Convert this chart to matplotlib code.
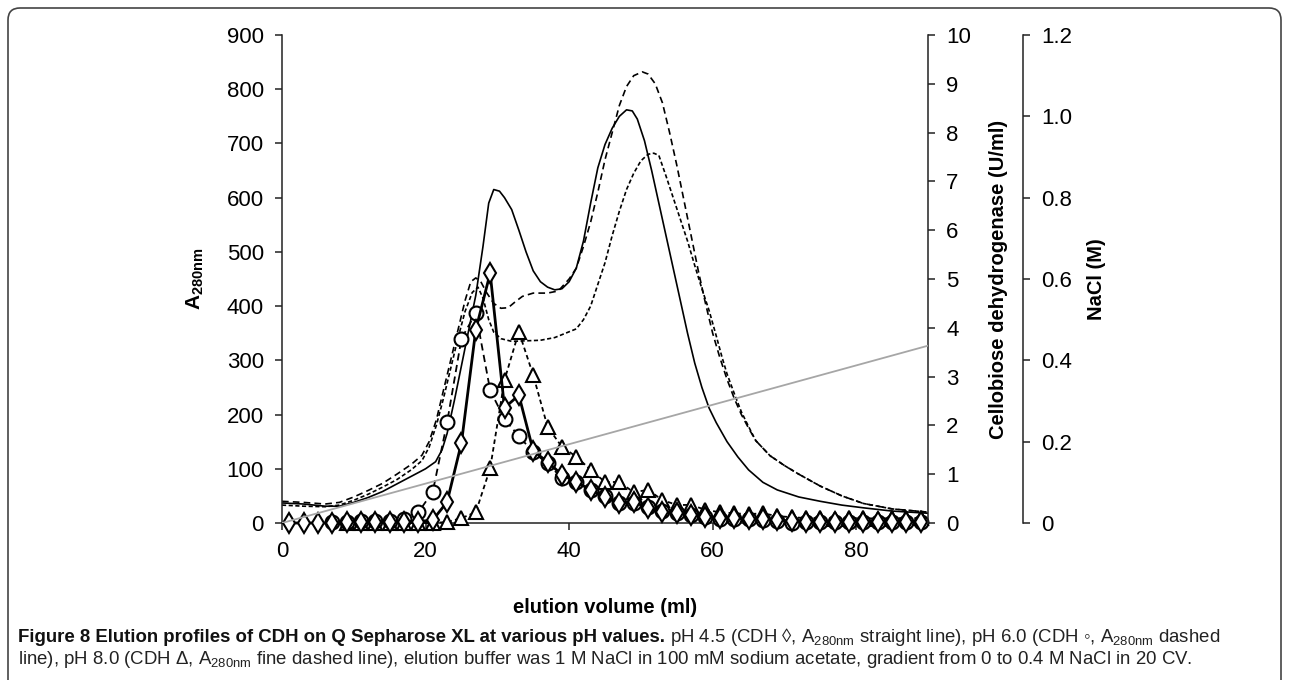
import matplotlib
matplotlib.use("Agg")
import matplotlib.pyplot as plt
from matplotlib.patches import FancyBboxPatch
from matplotlib.transforms import IdentityTransform

plt.rcParams['font.family'] = ['Liberation Sans', 'DejaVu Sans']
plt.rcParams['mathtext.fontset'] = 'custom'
plt.rcParams['mathtext.rm'] = 'Liberation Sans'
plt.rcParams['mathtext.bf'] = 'Liberation Sans:bold'

# A280 traces (left axis)
vol_45 = [0, 3, 6, 8, 10, 12, 14, 16, 18, 20, 21.4, 22.3, 23, 24, 25, 26, 27, 28, 28.8, 29.5,
          30.3, 31, 32, 33, 34, 35, 36, 37, 38, 39, 40, 41, 42, 43, 44, 45, 46, 47, 48, 48.8,
          49.5, 50.5, 51.5, 52.5, 53.5, 54.5, 55.5, 56.5, 57.5, 58.5, 59.5, 60.5, 62, 63.5, 65,
          67, 69, 72, 75, 78, 81, 85, 90]
a280_45 = [37, 35, 31, 31, 38, 47, 58, 72, 86, 100, 113, 135, 165, 225, 290, 355, 420, 510, 590, 615,
           612, 600, 578, 540, 500, 465, 445, 435, 430, 432, 445, 470, 520, 590, 655, 698, 728, 750, 762, 760,
           745, 705, 650, 590, 530, 470, 410, 350, 295, 250, 212, 185, 150, 122, 98,
           75, 61, 48, 40, 33, 28, 22, 18]

vol_60 = [0, 3, 6, 8, 10, 12, 14, 16, 18, 19.5, 20.5, 21.5, 22.5, 23.5, 24.5, 25.5, 26.3, 27, 27.7,
          28.5, 29.5, 30.5, 31.5, 32.5, 33.5, 35, 37, 38.5, 40, 41, 42, 43, 44, 45, 46, 47, 48, 49,
          50.2, 51, 52, 53, 54, 55, 56, 57, 58, 59, 60, 61, 62, 63, 64, 65, 66, 68, 70, 72, 75, 78,
          81, 85, 90]
a280_60 = [40, 38, 35, 38, 48, 60, 73, 90, 108, 125, 150, 190, 245, 300, 355, 410, 445, 452, 445,
           425, 405, 396, 397, 408, 418, 424, 424, 428, 450, 470, 510, 555, 610, 670, 720, 770, 805, 825,
           832, 828, 810, 775, 720, 660, 595, 530, 465, 405, 350, 305, 265, 230, 200, 175, 152, 124, 106, 90, 68, 50,
           36, 26, 20]

vol_80 = [0, 3, 6, 8, 10, 12, 14, 16, 18, 19.5, 20.5, 21.5, 22.5, 23.5, 24.5, 25.5, 26.5, 27.3, 28,
          28.8, 29.5, 30.5, 32, 34, 36, 38, 39.5, 41, 42, 43, 44, 45, 46, 47, 48, 49, 50, 51, 51.8,
          52.5, 53.5, 54.5, 55.5, 56.5, 57.5, 58.5, 59.5, 60.5, 61.3, 62, 63.2, 64, 65, 66, 68, 70, 72,
          75, 78, 81, 85, 90]
a280_80 = [33, 31, 30, 33, 42, 53, 66, 80, 98, 115, 140, 180, 230, 285, 340, 390, 425, 435, 415,
           375, 352, 340, 335, 336, 337, 342, 350, 358, 375, 400, 440, 480, 530, 575, 615, 645, 668, 680, 682,
           678, 640, 600, 560, 520, 475, 432, 392, 345, 306, 275, 232, 205, 178, 152, 124, 106, 90,
           68, 50, 36, 26, 20]

# CDH activity (U/ml, right axis)
frac_45 = list(range(1, 90, 2))
cdh_45 = [0, 0, 0, 0, 0.02, 0.03, 0.03, 0.03, 0.03, 0.03, 0.06, 0.43, 1.64, 3.96, 5.12, 2.36, 2.62,
          1.48, 1.25, 0.99, 0.84, 0.68, 0.53, 0.41, 0.43, 0.31, 0.22, 0.2, 0.17, 0.13, 0.1, 0.1, 0.08,
          0.08, 0.06, 0.04, 0.03, 0.03, 0.03, 0.03, 0.02, 0.02, 0.02, 0.02, 0.02]

frac_60 = list(range(7, 90, 2))
cdh_60 = [0.02, 0.03, 0.05, 0.05, 0.05, 0.08, 0.22, 0.64, 2.06, 3.78, 4.3, 2.72, 2.13, 1.78, 1.45,
          1.22, 0.92, 0.83, 0.68, 0.55, 0.42, 0.4, 0.32, 0.24, 0.2, 0.17, 0.13, 0.08, 0.09, 0.08, 0.07,
          0.05, 0.01, 0.03, 0.03, 0.03, 0.03, 0.03, 0.02, 0.02, 0.02, 0.02]

frac_80 = list(range(9, 90, 2))
cdh_80 = [0, 0, 0, 0, 0, 0, 0, 0.02, 0.1, 0.22, 1.12, 2.93, 3.92, 3.03, 1.97, 1.56, 1.36, 1.09,
          0.84, 0.84, 0.63, 0.68, 0.47, 0.37, 0.37, 0.27, 0.22, 0.2, 0.18, 0.2, 0.14, 0.12, 0.1, 0.1,
          0.09, 0.1, 0.1, 0.09, 0.1, 0.1, 0.1]

# NaCl gradient
vol_nacl = [0, 90]
nacl = [0, 0.436]

W, H = 1289, 680
fig = plt.figure(figsize=(W / 100, H / 100), dpi=100)
ax = fig.add_axes([282 / W, 1 - 523 / H, 646 / W, 488 / H])
ax2 = ax.twinx()
ax3 = ax.twinx()

ax.plot(vol_45, a280_45, color='black', lw=1.2, ls='-')
ax.plot(vol_60, a280_60, color='black', lw=1.2, ls=(0, (4, 2.5)))
ax.plot(vol_80, a280_80, color='black', lw=1.2, ls=(0, (2.5, 1.5)))

ax3.plot(vol_nacl, nacl, color='#a6a6a6', lw=1.3)

mk = dict(color='black', mfc='white', mec='black', mew=1.5, clip_on=False)
ax2.plot(frac_80, cdh_80, marker='^', ms=10, lw=1.3, ls=(0, (2.5, 1.8)), **mk)
ax2.plot(frac_60, cdh_60, marker='o', ms=10, lw=1.3, ls=(0, (4, 2.5)), **mk)
ax2.plot(frac_45, cdh_45, marker='d', ms=10, lw=2.0, ls='-', **mk)

ax.set_xlim(0, 90)
ax.set_ylim(0, 900)
ax.set_xticks([0, 20, 40, 60, 80])
ax.set_yticks(range(0, 901, 100))
ax2.set_ylim(0, 10)
ax2.set_yticks(range(0, 11))
ax3.set_ylim(0, 1.2)
ax3.set_yticks([0, 0.2, 0.4, 0.6, 0.8, 1.0, 1.2])
ax3.set_yticklabels(['0', '0.2', '0.4', '0.6', '0.8', '1.0', '1.2'])

for a in (ax, ax2, ax3):
    a.spines['top'].set_visible(False)
    a.tick_params(direction='out', length=5, width=1.1, labelsize=16, pad=8, color='#222222')
    for s in a.spines.values():
        s.set_linewidth(1.1)
        s.set_color('#222222')
ax2.spines['left'].set_visible(False)
ax2.spines['bottom'].set_visible(False)
ax3.spines['left'].set_visible(False)
ax3.spines['bottom'].set_visible(False)
ax.spines['right'].set_visible(False)
ax3.spines['right'].set_position(('axes', 1.147))

ax.set_xlabel('elution volume (ml)', fontsize=14.5, fontweight='bold')
ax.xaxis.set_label_coords(0.5, -0.154)
ax.set_ylabel(r'A$_{\mathbf{280nm}}$', fontsize=15, fontweight='bold')
ax.yaxis.set_label_coords(-0.118, 0.5)
ax2.set_ylabel('Cellobiose dehydrogenase (U/ml)', fontsize=14.5, fontweight='bold')
ax2.yaxis.set_label_coords(1.094, 0.5)
ax3.set_ylabel('NaCl (M)', fontsize=14.5, fontweight='bold')
ax3.yaxis.set_label_coords(1.246, 0.5)

# outer rounded frame
frame = FancyBboxPatch((8, -30), W - 16, H - 8 + 30, boxstyle='round,pad=0,rounding_size=12',
                       transform=IdentityTransform(), fill=False, ec='#444444', lw=1.2)
fig.add_artist(frame)

# caption
cap_font = ['Liberation Sans', 'DejaVu Sans']
cap_size = 13.4
t1 = fig.text(18 / W, 1 - 637 / H, 'Figure 8 Elution profiles of CDH on Q Sepharose XL at various pH values.',
              fontsize=cap_size, fontweight='bold', family=cap_font, va='center', color='#111111')
fig.canvas.draw()
bb = t1.get_window_extent()
fig.text(bb.x1 / W + 5 / W, 1 - 637 / H,
         r'pH 4.5 (CDH ◊, A$_{\mathrm{280nm}}$ straight line), pH 6.0 (CDH ◦, A$_{\mathrm{280nm}}$ dashed',
         fontsize=cap_size, family=cap_font, va='center', color='#222222')
fig.text(18 / W, 1 - 660 / H,
         r'line), pH 8.0 (CDH Δ, A$_{\mathrm{280nm}}$ fine dashed line), elution buffer was 1 M NaCl in '
         r'100 mM sodium acetate, gradient from 0 to 0.4 M NaCl in 20 CV.',
         fontsize=cap_size, family=cap_font, va='center', color='#222222')

fig.savefig('out.png', dpi=100)
